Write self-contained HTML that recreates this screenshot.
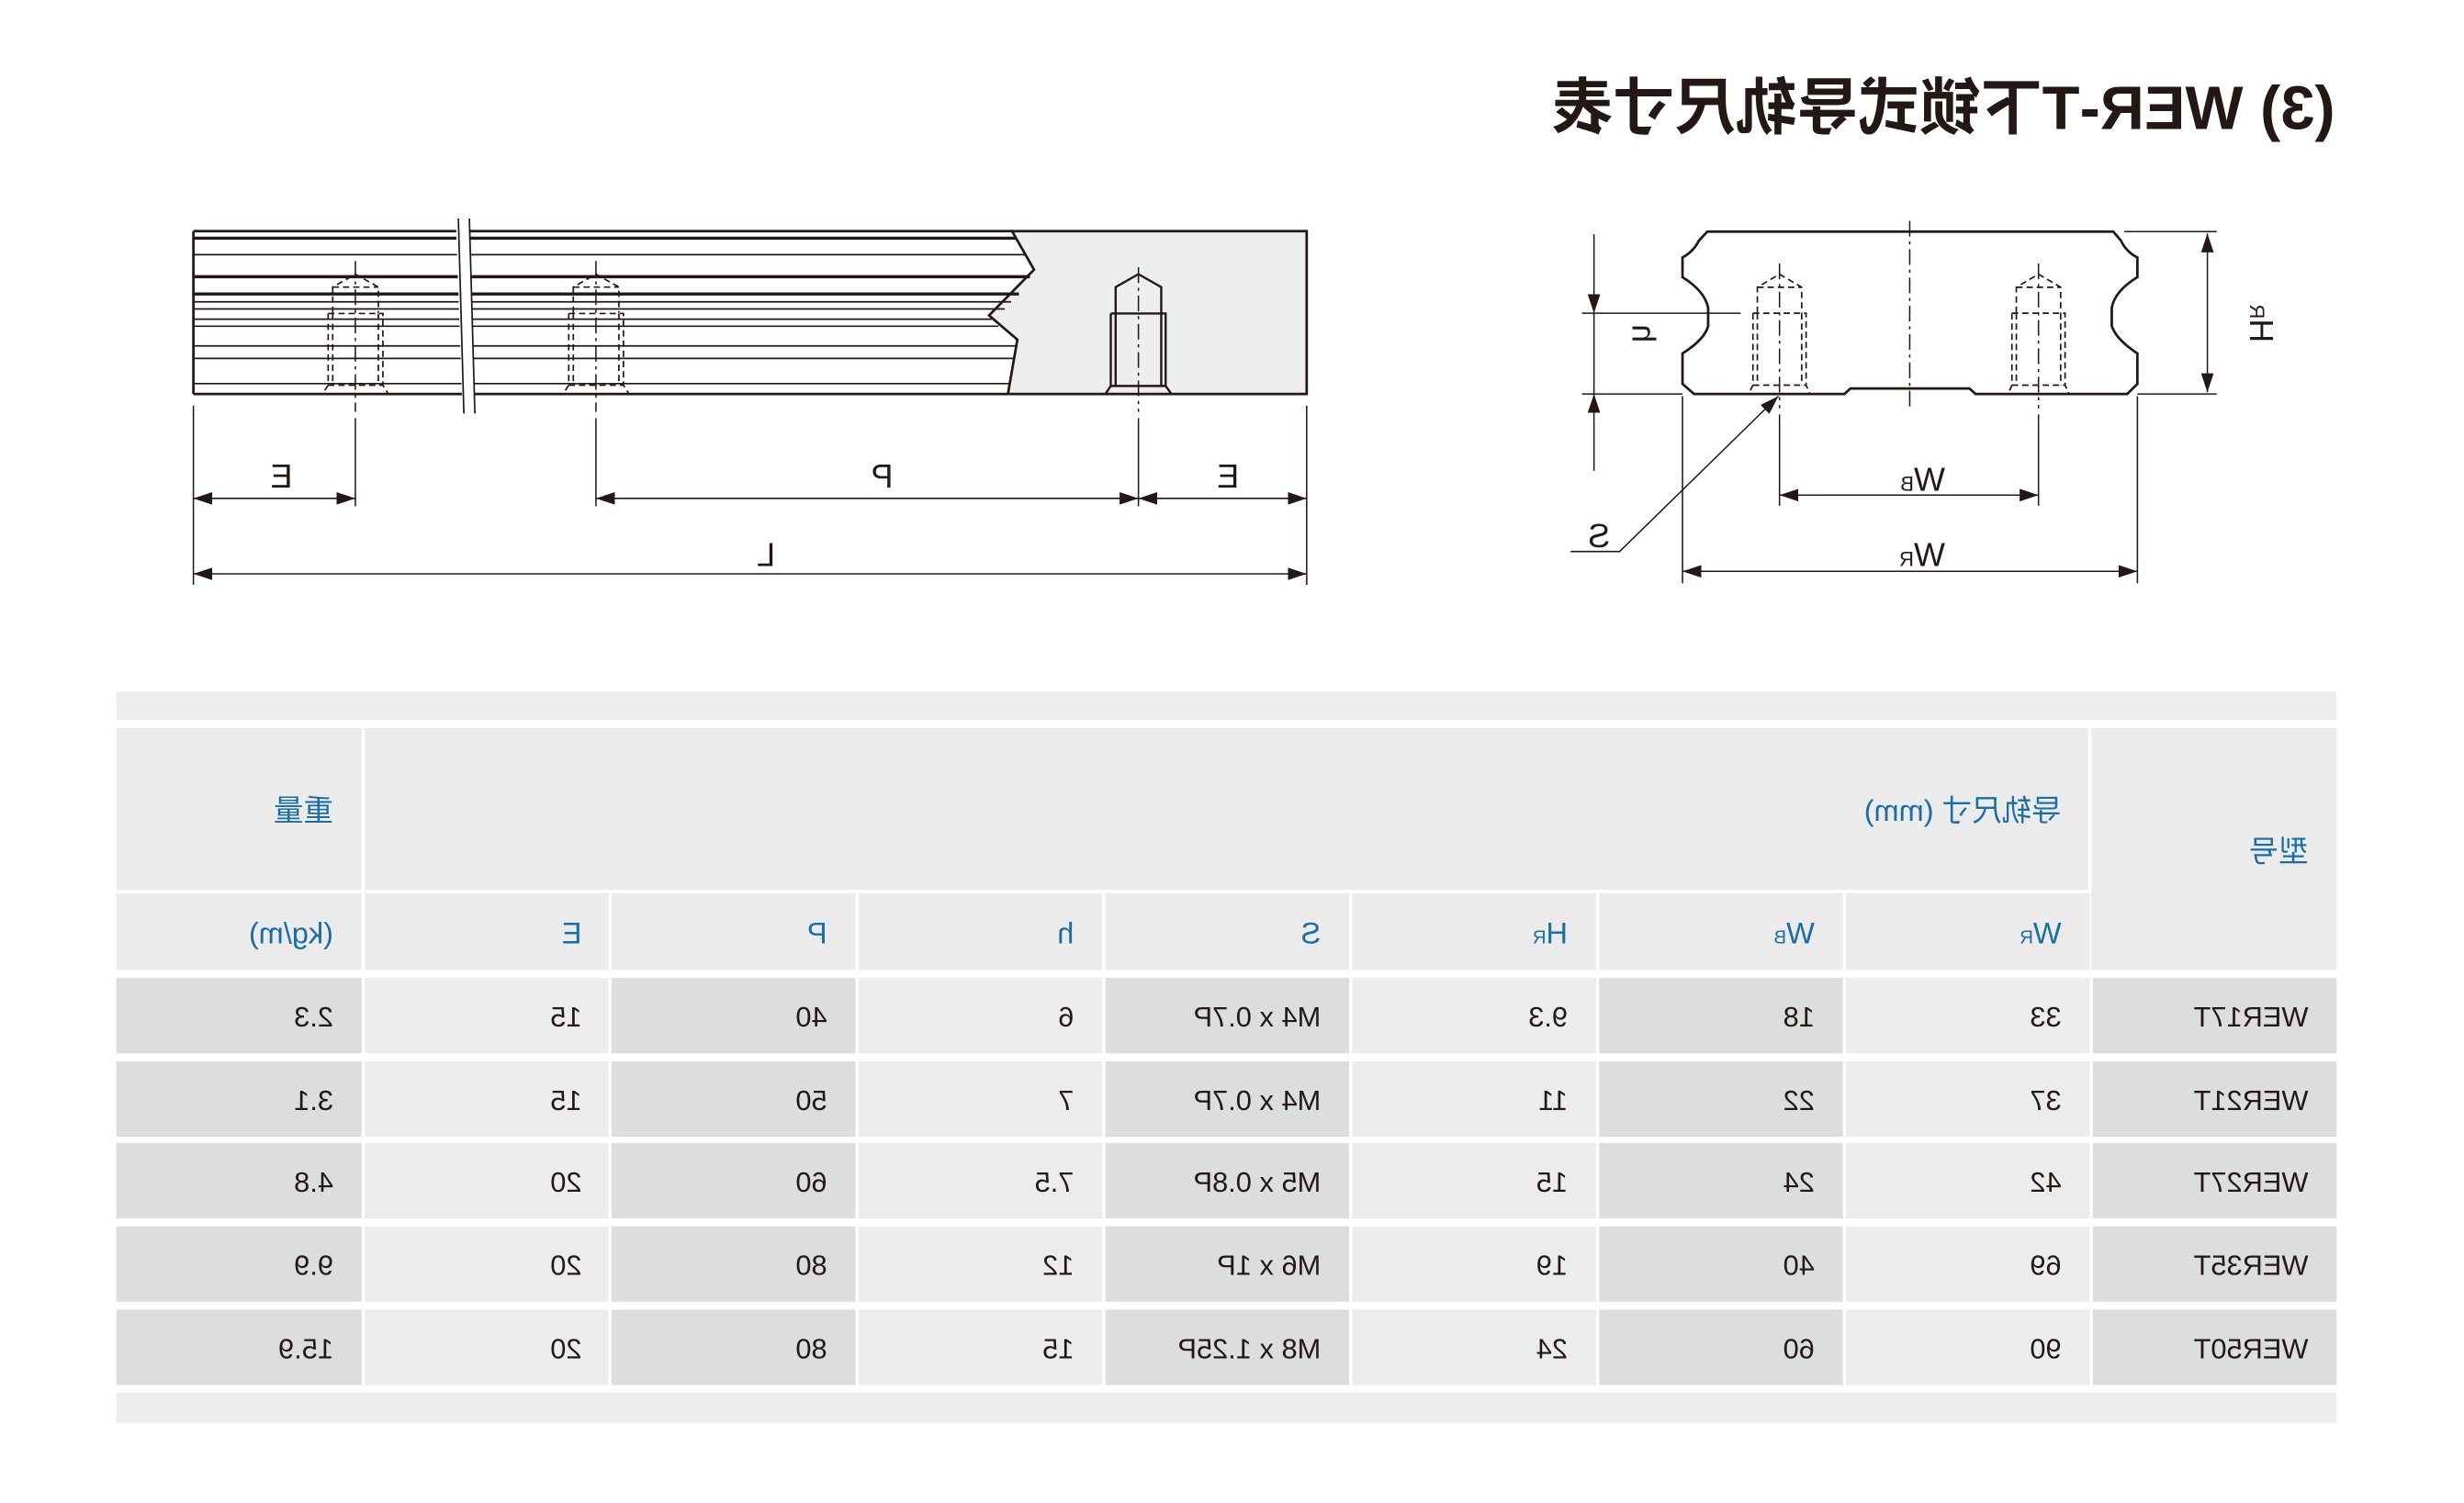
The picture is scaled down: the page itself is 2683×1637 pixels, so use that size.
<!DOCTYPE html>
<html><head><meta charset="utf-8"><style>
html,body{margin:0;padding:0;background:#fff;width:2683px;height:1637px;overflow:hidden}
svg{display:block}
.t{font-family:"Liberation Sans","Noto Sans CJK SC",sans-serif}
</style></head><body>
<svg width="2683" height="1637" viewBox="0 0 1567 956" preserveAspectRatio="none" xmlns="http://www.w3.org/2000/svg">
<defs>
<marker id="a" markerWidth="13" markerHeight="9" refX="12" refY="4.5" orient="auto-start-reverse" markerUnits="userSpaceOnUse"><path d="M0,0.5 L12,4.5 L0,8.5 z" fill="#231815"/></marker>
</defs>
<g stroke="#231815" fill="none">
<path d="M643.6,147 L831,147 L831,250.6 L641,250.6 L647,216 L629,200.6 L657.6,171.5 Z" fill="#eeeeee" stroke-width="1.6"/>
<path d="M123,147 L643.6,147 M123,250.6 L641,250.6 M123,147 L123,250.6" stroke-width="1.6"/>
<g stroke-width="1">
<line x1="123" y1="151.5" x2="646" y2="151.5" stroke-width="2"/>
<line x1="123" y1="162" x2="652" y2="162"/>
<line x1="123" y1="176" x2="655" y2="176" stroke-width="2"/>
<line x1="123" y1="187" x2="648" y2="187" stroke-width="2"/>
<line x1="123" y1="192" x2="643" y2="192"/>
<line x1="123" y1="196.5" x2="639" y2="196.5"/>
<line x1="123" y1="203" x2="631" y2="203"/>
<line x1="123" y1="207.5" x2="635" y2="207.5"/>
<line x1="123" y1="220" x2="646" y2="220"/>
<line x1="123" y1="228" x2="645" y2="228"/>
<line x1="123" y1="244" x2="642" y2="244"/>
</g>
<rect x="292" y="138" width="8" height="126" fill="#fff" stroke="none" transform="rotate(-2 296 200)"/>
<line x1="291.5" y1="139" x2="295" y2="263" stroke-width="1"/>
<line x1="298.5" y1="139" x2="302" y2="263" stroke-width="1"/>
<g stroke-width="1" stroke-dasharray="4,2.5">
<path d="M211.6,199 L211.6,182.6 L226,174.4 L240.6,182.6 L240.6,199 M211.6,182.6 L240.6,182.6 M208.7,199.4 L243.5,199.4 L243.5,245 L247,250.6 M208.7,199.4 L208.7,245 L205,250.6 M211.6,199.4 L211.6,245 M240.6,199.4 L240.6,245 M208.7,245 L243.5,245"/>
<path d="M364.6,199 L364.6,182.6 L379,174.4 L393.6,182.6 L393.6,199 M364.6,182.6 L393.6,182.6 M361.7,199.4 L396.5,199.4 L396.5,245 L400,250.6 M361.7,199.4 L361.7,245 L358,250.6 M364.6,199.4 L364.6,245 M393.6,199.4 L393.6,245 M361.7,245 L396.5,245"/>
</g>
<path d="M709.5,199.4 L709.5,182.6 L724,174.4 L738.5,182.6 L738.5,199.4 M706.4,199.4 L741.3,199.4 L741.3,245.5 L745,250.6 M706.4,199.4 L706.4,245.5 L703,250.6 M709.5,199.4 L709.5,245.5 M738.5,199.4 L738.5,245.5 M706.4,245.5 L741.3,245.5" stroke-width="1.4"/>
<g stroke-width="0.9" stroke-dasharray="10,3,2,3">
<line x1="226" y1="166" x2="226" y2="262"/><line x1="379" y1="166" x2="379" y2="262"/><line x1="724" y1="170" x2="724" y2="262"/>
</g>
<g stroke-width="0.9">
<line x1="123" y1="258" x2="123" y2="372"/><line x1="831" y1="258" x2="831" y2="372"/>
<line x1="226" y1="266" x2="226" y2="322"/><line x1="379" y1="266" x2="379" y2="322"/><line x1="724" y1="266" x2="724" y2="322"/>
<line x1="123" y1="317" x2="226" y2="317" marker-start="url(#a)" marker-end="url(#a)"/>
<line x1="379" y1="317" x2="724" y2="317" marker-start="url(#a)" marker-end="url(#a)"/>
<line x1="724" y1="317" x2="831" y2="317" marker-start="url(#a)" marker-end="url(#a)"/>
<line x1="123" y1="365" x2="831" y2="365" marker-start="url(#a)" marker-end="url(#a)"/>
</g>
<path d="M1085.8,147.3 L1343.9,147.3 L1348.9,153.1 Q1352,160 1359.3,163.8 L1359.3,176.3 Q1345,185 1343,195.7 L1343,207.4 Q1346,216 1359.3,224.8 L1359.3,244.2 L1352.8,250.6 L1256.4,250.6 L1252.5,247.1 L1176.8,247.1 L1173,250.6 L1077.4,250.6 L1070,244.2 L1070,224.8 Q1084,216 1086.3,207.4 L1086.3,195.7 Q1084,185 1070,176.3 L1070,163.8 Q1077,160 1080.4,153.1 Z" stroke-width="1.6"/>
<g stroke-width="1" stroke-dasharray="4,2.5">
<path d="M1117.6,199 L1117.6,182.7 L1131.7,174.4 L1145.8,182.7 L1145.8,199 M1117.6,182.7 L1145.8,182.7 M1114.8,199.2 L1148.6,199.2 L1148.6,245 L1151,250.6 M1114.8,199.2 L1114.8,245 L1112,250.6 M1117.6,199.2 L1117.6,245 M1145.8,199.2 L1145.8,245 M1114.8,245 L1148.6,245"/>
<path d="M1282.3,199 L1282.3,182.7 L1296.4,174.4 L1310.5,182.7 L1310.5,199 M1282.3,182.7 L1310.5,182.7 M1279.5,199.2 L1313.3,199.2 L1313.3,245 L1316,250.6 M1279.5,199.2 L1279.5,245 L1277,250.6 M1282.3,199.2 L1282.3,245 M1310.5,199.2 L1310.5,245 M1279.5,245 L1313.3,245"/>
</g>
<g stroke-width="0.9" stroke-dasharray="10,3,2,3">
<line x1="1214.5" y1="140.5" x2="1214.5" y2="259.7"/>
<line x1="1131.7" y1="167.6" x2="1131.7" y2="259.7"/>
<line x1="1296.4" y1="167.6" x2="1296.4" y2="259.7"/>
</g>
<g stroke-width="0.9">
<line x1="1131.7" y1="263.6" x2="1131.7" y2="321.7"/><line x1="1296.4" y1="263.6" x2="1296.4" y2="321.7"/>
<line x1="1131.7" y1="314.9" x2="1296.4" y2="314.9" marker-start="url(#a)" marker-end="url(#a)"/>
<line x1="1070" y1="252" x2="1070" y2="371"/><line x1="1359.3" y1="252" x2="1359.3" y2="371"/>
<line x1="1070" y1="363.4" x2="1359.3" y2="363.4" marker-start="url(#a)" marker-end="url(#a)"/>
<line x1="1351" y1="147.3" x2="1409.7" y2="147.3"/><line x1="1359.3" y1="250.6" x2="1409.7" y2="250.6"/>
<line x1="1403.8" y1="148.5" x2="1403.8" y2="249.5" marker-start="url(#a)" marker-end="url(#a)"/>
<line x1="1006" y1="199.2" x2="1107" y2="199.2"/>
<line x1="1006" y1="250.6" x2="1070" y2="250.6"/>
<line x1="1013.7" y1="149" x2="1013.7" y2="199.2" marker-end="url(#a)"/>
<line x1="1013.7" y1="299.4" x2="1013.7" y2="250.6" marker-end="url(#a)"/>
<line x1="1013.7" y1="199.2" x2="1013.7" y2="250.6"/>
<polyline points="998.8,350.8 1030,350.8 1131,252" marker-end="url(#a)"/>
</g>
</g>
<g class="t" fill="#231815">
<text transform="translate(1485,82) scale(-1,1)" font-size="39" font-weight="bold">(3) WER-T下锁式导轨尺寸表</text>
<g font-size="21">
<text transform="translate(186,310) scale(-1,1)">E</text>
<text transform="translate(568,310) scale(-1,1)">P</text>
<text transform="translate(788,310) scale(-1,1)">E</text>
<text transform="translate(493,360) scale(-1,1)">L</text>
<text transform="translate(1237,312) scale(-1,1)">W<tspan font-size="13">B</tspan></text>
<text transform="translate(1237,360) scale(-1,1)">W<tspan font-size="13">R</tspan></text>
<text transform="translate(1024,348) scale(-1,1)">S</text>
<text transform="translate(1431,218) scale(-1,1) rotate(-90)">H<tspan font-size="13">R</tspan></text>
<text transform="translate(1038,218) scale(-1,1) rotate(-90)">h</text>
</g>
</g>
<rect x="74" y="440" width="1412" height="18" fill="#ececec"/>
<rect x="74" y="886" width="1412" height="19" fill="#ececec"/>
<g fill="#ebebeb">
<rect x="74" y="463" width="156" height="103"/>
<rect x="232" y="463" width="1096" height="103"/>
<rect x="1330" y="463" width="156" height="154"/>
<rect x="74" y="568" width="156" height="49"/>
<rect x="232" y="568" width="155" height="49"/>
<rect x="389" y="568" width="155" height="49"/>
<rect x="546" y="568" width="155" height="49"/>
<rect x="703" y="568" width="155" height="49"/>
<rect x="860" y="568" width="155" height="49"/>
<rect x="1017" y="568" width="155" height="49"/>
<rect x="1174" y="568" width="155" height="49"/>
</g>
<g id="r1">
<rect x="74" y="622" width="156" height="48" fill="#dcdddd"/>
<rect x="232" y="622" width="155" height="48" fill="#ececec"/>
<rect x="389" y="622" width="155" height="48" fill="#dcdddd"/>
<rect x="546" y="622" width="155" height="48" fill="#ececec"/>
<rect x="703" y="622" width="155" height="48" fill="#dcdddd"/>
<rect x="860" y="622" width="155" height="48" fill="#ececec"/>
<rect x="1017" y="622" width="155" height="48" fill="#dcdddd"/>
<rect x="1174" y="622" width="155" height="48" fill="#ececec"/>
<rect x="1331" y="622" width="155" height="48" fill="#dcdddd"/>
</g>
<use href="#r1" y="53"/><use href="#r1" y="105"/><use href="#r1" y="158"/><use href="#r1" y="211"/>
<g class="t" fill="#1b6ea3" font-size="19">
<text transform="translate(212,522) scale(-1,1)">重量</text>
<text transform="translate(1311,522) scale(-1,1)">导轨尺寸 (mm)</text>
<text transform="translate(1468,548) scale(-1,1)">型号</text>
<text transform="translate(212,600) scale(-1,1)">(kg/m)</text>
<text transform="translate(370,600) scale(-1,1)">E</text>
<text transform="translate(526,600) scale(-1,1)">P</text>
<text transform="translate(683,600) scale(-1,1)">h</text>
<text transform="translate(840,600) scale(-1,1)">S</text>
<text transform="translate(997,600) scale(-1,1)">H<tspan font-size="12">R</tspan></text>
<text transform="translate(1154,600) scale(-1,1)">W<tspan font-size="12">B</tspan></text>
<text transform="translate(1311,600) scale(-1,1)">W<tspan font-size="12">R</tspan></text>
</g>
<g class="t" fill="#231815" font-size="18">
<text transform="translate(1468,653) scale(-1,1)">WER17T</text><text transform="translate(1311,653) scale(-1,1)">33</text><text transform="translate(1154,653) scale(-1,1)">18</text><text transform="translate(997,653) scale(-1,1)">9.3</text><text transform="translate(840,653) scale(-1,1)">M4 x 0.7P</text><text transform="translate(683,653) scale(-1,1)">6</text><text transform="translate(526,653) scale(-1,1)">40</text><text transform="translate(370,653) scale(-1,1)">15</text><text transform="translate(212,653) scale(-1,1)">2.3</text>
<text transform="translate(1468,706) scale(-1,1)">WER21T</text><text transform="translate(1311,706) scale(-1,1)">37</text><text transform="translate(1154,706) scale(-1,1)">22</text><text transform="translate(997,706) scale(-1,1)">11</text><text transform="translate(840,706) scale(-1,1)">M4 x 0.7P</text><text transform="translate(683,706) scale(-1,1)">7</text><text transform="translate(526,706) scale(-1,1)">50</text><text transform="translate(370,706) scale(-1,1)">15</text><text transform="translate(212,706) scale(-1,1)">3.1</text>
<text transform="translate(1468,758) scale(-1,1)">WER27T</text><text transform="translate(1311,758) scale(-1,1)">42</text><text transform="translate(1154,758) scale(-1,1)">24</text><text transform="translate(997,758) scale(-1,1)">15</text><text transform="translate(840,758) scale(-1,1)">M5 x 0.8P</text><text transform="translate(683,758) scale(-1,1)">7.5</text><text transform="translate(526,758) scale(-1,1)">60</text><text transform="translate(370,758) scale(-1,1)">20</text><text transform="translate(212,758) scale(-1,1)">4.8</text>
<text transform="translate(1468,811) scale(-1,1)">WER35T</text><text transform="translate(1311,811) scale(-1,1)">69</text><text transform="translate(1154,811) scale(-1,1)">40</text><text transform="translate(997,811) scale(-1,1)">19</text><text transform="translate(840,811) scale(-1,1)">M6 x 1P</text><text transform="translate(683,811) scale(-1,1)">12</text><text transform="translate(526,811) scale(-1,1)">80</text><text transform="translate(370,811) scale(-1,1)">20</text><text transform="translate(212,811) scale(-1,1)">9.9</text>
<text transform="translate(1468,864) scale(-1,1)">WER50T</text><text transform="translate(1311,864) scale(-1,1)">90</text><text transform="translate(1154,864) scale(-1,1)">60</text><text transform="translate(997,864) scale(-1,1)">24</text><text transform="translate(840,864) scale(-1,1)">M8 x 1.25P</text><text transform="translate(683,864) scale(-1,1)">15</text><text transform="translate(526,864) scale(-1,1)">80</text><text transform="translate(370,864) scale(-1,1)">20</text><text transform="translate(212,864) scale(-1,1)">15.9</text>
</g>
</svg>
</body></html>
